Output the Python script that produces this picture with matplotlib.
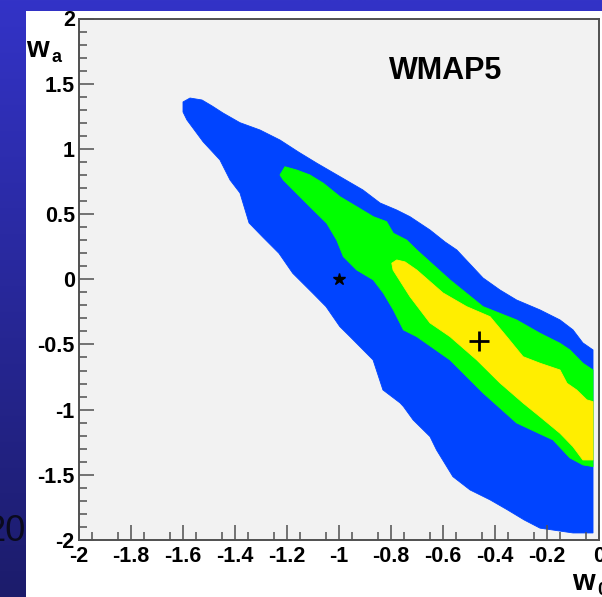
import numpy as np
import matplotlib
matplotlib.use("Agg")
import matplotlib.pyplot as plt
from matplotlib.patches import Rectangle, Polygon
from matplotlib.ticker import FixedLocator, FixedFormatter

# ---- confidence regions in the (w0, wa) plane ----
# outer (blue) region boundary
blue_w0 = [-1.600, -1.600, -1.573, -1.527, -1.488, -1.446, -1.381, -1.304, -1.227,
           -1.155, -1.085, -0.996, -0.908, -0.842, -0.778, -0.727, -0.650, -0.592,
           -0.547, -0.446, -0.381, -0.317, -0.227, -0.150, -0.100, -0.062, -0.023,
           -0.023, -0.100, -0.227, -0.288, -0.352, -0.419, -0.496, -0.562, -0.625,
           -0.650, -0.715, -0.752, -0.765, -0.831, -0.869, -0.958, -0.997, -1.050,
           -1.101, -1.178, -1.231, -1.295, -1.346, -1.381, -1.419, -1.458, -1.523,
           -1.585]
blue_wa = [1.283, 1.360, 1.390, 1.375, 1.329, 1.275, 1.201, 1.145, 1.068,
           0.975, 0.890, 0.787, 0.685, 0.585, 0.531, 0.480, 0.378, 0.286,
           0.225, 0.010, -0.082, -0.159, -0.235, -0.312, -0.388, -0.488, -0.542,
           -1.946, -1.946, -1.909, -1.846, -1.769, -1.692, -1.616, -1.514, -1.309,
           -1.207, -1.079, -0.977, -0.949, -0.849, -0.619, -0.440, -0.363, -0.210,
           -0.107, 0.046, 0.199, 0.327, 0.432, 0.662, 0.761, 0.915, 1.055,
           1.222]

# middle (green) region boundary
green_w0 = [-1.227, -1.208, -1.163, -1.112, -1.060, -0.996, -0.932, -0.868, -0.817,
            -0.791, -0.740, -0.701, -0.573, -0.446, -0.317, -0.227, -0.150, -0.112,
            -0.062, -0.023, -0.023, -0.062, -0.112, -0.177, -0.227, -0.317, -0.446,
            -0.573, -0.701, -0.752, -0.791, -0.829, -0.868, -0.932, -0.983, -1.009,
            -1.047, -1.112, -1.176, -1.214]
green_wa = [0.800, 0.863, 0.838, 0.800, 0.736, 0.633, 0.557, 0.480, 0.442,
            0.353, 0.301, 0.225, -0.005, -0.210, -0.312, -0.414, -0.491, -0.542,
            -0.644, -0.696, -1.437, -1.424, -1.370, -1.232, -1.186, -1.102, -0.872,
            -0.619, -0.440, -0.389, -0.235, -0.107, -0.005, 0.071, 0.173, 0.301,
            0.429, 0.557, 0.685, 0.761]

# inner (yellow) region boundary
yellow_w0 = [-0.797, -0.778, -0.746, -0.701, -0.600, -0.509, -0.419, -0.355, -0.292,
             -0.227, -0.150, -0.123, -0.086, -0.047, -0.023, -0.023, -0.062, -0.100,
             -0.150, -0.227, -0.292, -0.381, -0.470, -0.573, -0.650, -0.727, -0.792]
yellow_wa = [0.123, 0.148, 0.133, 0.071, -0.105, -0.210, -0.287, -0.440, -0.594,
             -0.644, -0.696, -0.798, -0.849, -0.925, -0.939, -1.386, -1.386, -1.284,
             -1.181, -1.054, -0.949, -0.795, -0.619, -0.440, -0.335, -0.133, 0.071]

# reference points
lcdm_point = (-1.0, 0.0)
best_fit = (-0.46, -0.47)

# axis ticks
x_major = [-2.0, -1.8, -1.6, -1.4, -1.2, -1.0, -0.8, -0.6, -0.4, -0.2, 0.0]
x_labels = ["-2", "-1.8", "-1.6", "-1.4", "-1.2", "-1", "-0.8", "-0.6", "-0.4", "-0.2", "0"]
y_major = [-2.0, -1.5, -1.0, -0.5, 0.0, 0.5, 1.0, 1.5, 2.0]
y_labels = ["-2", "-1.5", "-1", "-0.5", "0", "0.5", "1", "1.5", "2"]

BLUE = "#0044FF"
GREEN = "#00FF00"
YELLOW = "#FFEE00"
W, H = 602, 597

fig = plt.figure(figsize=(W / 100, H / 100), dpi=100)

# slide background: vertical blue gradient
bg = fig.add_axes([0, 0, 1, 1], zorder=-10)
grad = np.linspace(0, 1, 256)[:, None]
top = np.array([0.20, 0.20, 0.78])
bot = np.array([0.11, 0.11, 0.42])
img = top[None, None, :] * (1 - grad[..., None]) + bot[None, None, :] * grad[..., None]
bg.imshow(img, aspect="auto", extent=[0, 1, 0, 1], interpolation="bilinear")
bg.set_xlim(0, 1)
bg.set_ylim(0, 1)
bg.axis("off")
bg.text(25 / W, (H - 541) / H, "20", ha="right", va="baseline", fontsize=26,
        color="#0a0a1e", family="Liberation Sans", transform=bg.transAxes, zorder=1)
bg.add_patch(Rectangle((26 / W, 0), 1, (H - 11) / H, transform=bg.transAxes,
                       facecolor="white", edgecolor="none", zorder=2))

# main plot
ax = fig.add_axes([79 / W, (H - 540) / H, 520 / W, 521.5 / H])
ax.set_facecolor("#F2F2F2")
ax.set_xlim(-2, 0)
ax.set_ylim(-2, 2)

for xs, ys, col in [(blue_w0, blue_wa, BLUE), (green_w0, green_wa, GREEN),
                    (yellow_w0, yellow_wa, YELLOW)]:
    ax.add_patch(Polygon(np.column_stack([xs, ys]), closed=True, facecolor=col,
                         edgecolor=col, linewidth=0.6))

ax.plot(*lcdm_point, marker="*", color="black", markersize=9, linestyle="none", zorder=5)
ax.plot(*best_fit, marker="+", color="black", markersize=15, markeredgewidth=2,
        linestyle="none", zorder=5)

ax.text(0.706, 0.899, "WMAP5", transform=ax.transAxes, ha="center", va="center",
        fontsize=22, fontweight="bold", family="Liberation Sans")

frame_col = "#505050"
for s in ax.spines.values():
    s.set_color(frame_col)
    s.set_linewidth(1.4)

ax.xaxis.set_major_locator(FixedLocator(x_major))
ax.xaxis.set_major_formatter(FixedFormatter(x_labels))
ax.xaxis.set_minor_locator(FixedLocator(np.round(np.arange(-1.95, 0.0, 0.1), 2)))
ax.yaxis.set_major_locator(FixedLocator(y_major))
ax.yaxis.set_major_formatter(FixedFormatter(y_labels))
y_minor = [v for v in np.round(np.arange(-1.9, 2.0, 0.1), 2) if abs(v * 2 - round(v * 2)) > 1e-6]
ax.yaxis.set_minor_locator(FixedLocator(y_minor))

ax.tick_params(which="both", direction="in", color=frame_col, width=1.1,
               top=False, right=False)
ax.tick_params(which="major", length=11)
ax.tick_params(which="minor", length=5.5)
ax.tick_params(axis="x", which="major", pad=4)
ax.tick_params(axis="y", which="major", pad=3)
for lab in ax.get_xticklabels() + ax.get_yticklabels():
    lab.set_fontfamily("Liberation Sans")
    lab.set_fontweight("bold")
    lab.set_fontsize(15.5)

# axis titles placed as in ROOT: wa top-left, w0 bottom-right
fig.text(26 / W, (H - 57) / H, "w", fontsize=21, fontweight="bold",
         family="Liberation Sans", ha="left", va="baseline")
fig.text(51 / W, (H - 62) / H, "a", fontsize=13, fontweight="bold",
         family="Liberation Sans", ha="left", va="baseline")
fig.text(572 / W, (H - 590) / H, "w", fontsize=21, fontweight="bold",
         family="Liberation Sans", ha="left", va="baseline")
fig.text(597 / W, (H - 595) / H, "0", fontsize=13, fontweight="bold",
         family="Liberation Sans", ha="left", va="baseline")

fig.savefig("out.png", dpi=100)
